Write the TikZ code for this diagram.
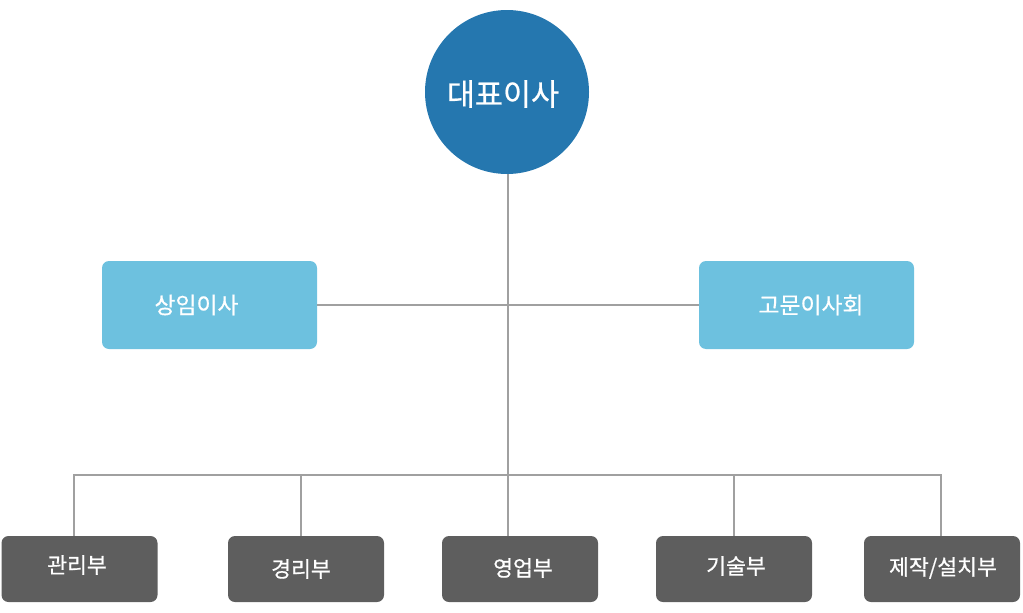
\documentclass[tikz,border=0pt]{standalone}
\usepackage{fontspec}
\setmainfont[FakeBold=0.6]{Noto Sans CJK KR}
\definecolor{ceo}{HTML}{2577AF}
\definecolor{mid}{HTML}{6DC1DF}
\definecolor{dept}{HTML}{5E5E5E}
\definecolor{wire}{HTML}{A0A0A0}
\begin{document}
\begin{tikzpicture}[x=1pt,y=-1pt,
  wire/.style={draw=wire,line width=1.6pt},
  midbox/.style={fill=mid,rounded corners=7pt,minimum width=215pt,minimum height=88pt,inner sep=0pt},
  deptbox/.style={fill=dept,rounded corners=7pt,minimum width=156pt,minimum height=66pt,inner sep=0pt},
  lbl/.style={text=white,inner sep=0pt,anchor=center},
  bigtxt/.style={font=\fontsize{30.5}{32}\selectfont},
  midtxt/.style={font=\fontsize{22.8}{24}\selectfont},
  smalltxt/.style={font=\fontsize{21.6}{23}\selectfont}]
\useasboundingbox (0,0) rectangle (1023,613);
% nodes
\node[circle,fill=ceo,minimum size=164pt,inner sep=0pt] (ceo) at (507,92) {};
\node[lbl,bigtxt] at (503,94) {대표이사};
\node[midbox] (sang) at (209.5,305) {};
\node[lbl,midtxt] at (196.5,305) {상임이사};
\node[midbox] (gomun) at (806.5,305) {};
\node[lbl,midtxt] at (811,305) {고문이사회};
\node[deptbox] (d1) at (79.5,569) {};
\node[deptbox] (d2) at (306,569) {};
\node[deptbox] (d3) at (520,569) {};
\node[deptbox] (d4) at (734,569) {};
\node[deptbox] (d5) at (942,569) {};
\node[lbl,smalltxt] at (77,565) {관리부};
\node[lbl,smalltxt] at (301,569) {경리부};
\node[lbl,smalltxt] at (523,568) {영업부};
\node[lbl,smalltxt] at (736,566) {기술부};
\node[lbl,smalltxt] at (943,568) {제작/설치부};
% bus coordinates
\coordinate (jmid) at (508,306);
\coordinate (b1) at (74,475);
\coordinate (b2) at (301,475);
\coordinate (b4) at (734,475);
\coordinate (b5) at (941,475);
% connectors
\draw[wire] (ceo.south -| jmid) -- (jmid |- d3.north);
\draw[wire] (sang.east) -- (gomun.west);
\draw[wire] (b1 |- d1.north) -- (b1) -- (b5) -- (b5 |- d5.north);
\draw[wire] (b2) -- (b2 |- d2.north);
\draw[wire] (b4) -- (b4 |- d4.north);
\end{tikzpicture}
\end{document}
